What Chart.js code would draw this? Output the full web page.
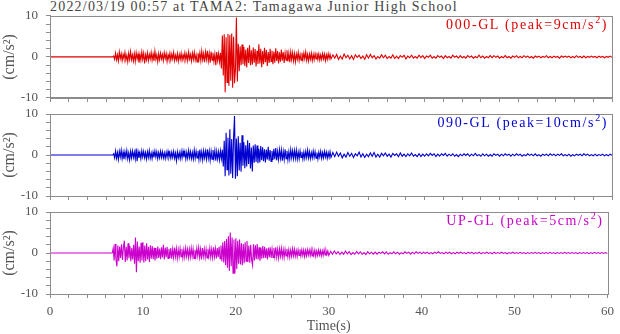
<!DOCTYPE html>
<html lang="en">
<head>
    <meta charset="UTF-8">
    <title>TAMA2 acceleration records</title>
    <script src="https://cdn.jsdelivr.net/npm/chart.js"></script>
    <style>
        body {
            margin: 0;
            background: #fff;
            width: 620px;
            height: 334px;
            overflow: hidden;
            position: relative;
            font-family: "Liberation Serif", serif;
        }
        canvas {
            position: absolute;
            left: 0;
            top: 0;
        }
        #title {
            position: absolute;
            left: 50px;
            top: 0px;
            font-size: 14px;
            line-height: 14px;
            letter-spacing: 1.2px;
            color: #444;
            white-space: nowrap;
        }
    </style>
</head>
<body>
    <div id="title">2022/03/19 00:57 at TAMA2: Tamagawa Junior High School</div>
    <canvas id="ns" width="620" height="334"></canvas>
    <canvas id="ew" width="620" height="334"></canvas>
    <canvas id="ud" width="620" height="334"></canvas>

    <script>
        // sampling of the traces (seconds)
        var burstStart = 6.8, burstStep = 0.1;   // 6.8 .. 30.0
        var codaStart = 30.2, codaStep = 0.2;    // 30.2 .. 60.0

        var xTickLabels = [0, 10, 20, 30, 40, 50, 60];
        var yTickLabels = [-10, 0, 10];

        var channelNames = ['000-GL', '090-GL', 'UP-GL'];
        var peakValues = [9, 10, 5];

        // 000-GL (cm/s2)
        var nsBurst = [
            0.2,-0.6,
            0.9,-0.7,0.5,-1.0,1.2,-0.4,0.8,-0.9,0.6,-0.5,
            1.1,-0.8,0.4,-1.2,0.9,-0.6,1.3,-0.7,0.5,-1.0,
            0.8,-1.1,1.0,-0.5,0.7,-1.4,0.6,-0.8,1.2,-0.6,
            0.9,-1.6,0.5,-0.7,1.0,-0.9,0.6,-0.5,1.1,-0.8,
            0.7,-1.0,1.4,-0.6,0.5,-1.2,0.8,-0.7,0.9,-0.5,
            0.6,-0.9,1.0,-0.4,0.8,-1.1,0.5,-0.6,0.9,-0.8,
            0.7,-0.5,1.1,-0.9,0.4,-0.7,0.8,-1.0,0.6,-0.6,
            0.9,-0.8,0.5,-0.6,1.0,-0.7,0.7,-0.9,1.2,-0.5,
            0.6,-1.0,0.9,-0.6,1.1,-0.8,0.5,-1.2,0.9,-0.7,
            1.0,-0.9,1.4,-0.7,0.8,-1.3,1.2,-0.6,1.5,-1.0,
            0.9,-1.4,1.3,-0.8,1.0,-1.1,0.7,-2.0,1.2,-0.9,
            0.8,-1.2,1.0,-2.8,5.2,-4.5,5.5,-8.6,4.8,-6.2,
            5.6,-7.0,5.3,-5.8,5.7,-7.5,4.9,-6.4,-3.0,9.6,
            -6.0,3.2,-3.5,2.6,-2.0,3.0,-1.8,2.4,-2.2,1.8,
            -2.6,2.2,-1.5,2.8,-2.0,1.6,-1.9,2.3,-1.4,1.9,
            -2.3,1.5,-1.7,3.1,-1.6,2.0,-2.5,1.4,-1.8,2.2,
            -1.3,1.7,-2.2,1.2,-1.5,2.0,-1.1,1.5,-1.8,1.3,
            -1.4,2.1,-1.0,1.4,-1.6,1.1,-1.2,1.8,-0.9,1.2,
            -1.5,1.0,-0.8,1.6,-1.1,0.9,-1.3,1.2,-0.7,1.0,
            -1.0,0.8,-1.2,0.7,-0.6,1.1,-0.9,0.6,-0.8,1.0,
            -0.7,0.9,-0.5,1.2,-0.8,0.6,-1.0,0.7,-0.6,0.9,
            -0.9,0.6,-0.7,0.8,-0.5,1.0,-0.6,0.7,-0.8,0.5,
            -0.6,0.8,-0.5,0.7,-0.9,0.5,-0.6,0.8,-0.4,0.6,
            -0.5
        ];
        var nsCoda = [
            0.5,-0.3,0.6,-0.6,0.2, -0.5,0.7,-0.2,0.4,-0.5,
            0.3,-0.6,0.5,-0.1,0.4, -0.4,0.2,-0.6,0.5,-0.3,
            0.6,-0.2,0.3,-0.5,0.1, -0.3,0.5,-0.2,0.4,-0.4,
            0.1,-0.3,0.5,-0.4,0.2, -0.4,0.3,-0.1,0.4,-0.5,
            0.2,-0.2,0.4,-0.3,0.1, -0.3,0.4,-0.2,0.3,-0.4,
            0.2,-0.1,0.4,-0.3,0.1, -0.3,0.3,-0.1,0.2,-0.4,
            0.3,-0.2,0.1,-0.3,0.4, -0.1,0.2,-0.3,0.3,-0.2,
            0.1,-0.3,0.3,-0.1,0.2, -0.3,0.1,-0.2,0.4,-0.2,
            0.2,-0.3,0.1,-0.2,0.3, -0.2,0.3,-0.1,0.2,-0.3,
            0.1,-0.2,0.3,-0.2,0.1, -0.3,0.2,-0.1,0.3,-0.2,
            0.1,-0.2,0.3,-0.1,0.2, -0.2,0.1,-0.3,0.2,-0.1,
            0.2,-0.2,0.1,-0.1,0.3, -0.2,0.1,-0.2,0.2,-0.1,
            0.1,-0.3,0.2,-0.1,0.2, -0.1,0.2,-0.2,0.1,-0.2,
            0.3,-0.1,0.1,-0.2,0.2, -0.2,0.1,-0.1,0.2,-0.1,
            0.1,-0.2,0.2,-0.1,0.1, -0.2,0.1,-0.1,0.2,-0.1
        ];

        // 090-GL (cm/s2)
        var ewBurst = [
            0.3,-0.7,
            1.0,-0.8,0.6,-1.1,0.9,-0.5,1.2,-0.9,0.7,-1.0,
            0.8,-0.6,1.1,-0.9,0.5,-1.2,0.9,-0.7,1.0,-0.6,
            0.7,-1.0,1.6,-1.5,0.8,-0.7,0.6,-0.9,1.0,-0.5,
            0.9,-0.7,0.6,-1.0,0.8,-0.6,1.1,-0.8,0.5,-0.9,
            0.7,-0.6,1.0,-0.5,0.8,-0.9,0.6,-0.7,0.9,-0.6,
            0.8,-0.7,0.5,-0.9,0.7,-0.6,0.9,-0.5,0.6,-0.8,
            0.7,-0.6,0.9,-0.8,0.5,-1.4,0.8,-0.7,0.6,-0.9,
            0.9,-0.7,1.0,-0.6,0.8,-1.0,0.7,-0.8,1.1,-0.7,
            0.8,-0.9,0.6,-1.0,1.2,-0.8,0.9,-0.7,1.0,-1.1,
            1.3,-0.9,0.8,-1.2,1.0,-0.7,0.9,-1.0,1.4,-0.8,
            1.0,-1.3,0.9,-1.0,1.2,-0.8,1.1,-1.4,0.9,-1.0,
            0.8,-1.2,1.0,-0.9,1.3,-2.8,3.5,-5.2,5.4,-3.6,
            4.2,-5.0,6.3,-4.6,3.9,-5.6,4.4,9.5,-5.8,4.0,
            -5.2,4.6,-3.8,3.0,-4.1,4.8,-2.6,3.1,-3.2,2.4,
            -2.8,3.6,-2.2,2.9,-3.3,1.8,-4.0,2.3,-1.9,2.6,
            -1.7,2.3,-2.0,1.5,-1.8,2.2,-1.3,1.9,-1.5,1.4,
            -1.8,1.3,-1.1,2.0,-1.4,1.2,-1.6,1.0,-1.2,1.5,
            -1.0,1.7,-1.3,0.9,-1.1,1.3,-0.8,1.2,-1.4,0.9,
            -1.1,1.4,-0.9,1.0,-1.2,0.8,-1.0,1.3,-0.7,1.0,
            -0.9,1.1,-0.8,1.2,-1.0,0.7,-0.9,1.0,-0.6,0.8,
            -1.0,0.7,-0.8,0.9,-0.6,1.2,-0.7,0.8,-0.9,0.6,
            -0.7,1.0,-0.6,0.8,-0.8,0.6,-1.0,0.7,-0.5,0.9,
            -0.8,0.6,-0.7,0.9,-0.5,0.7,-0.8,0.6,-0.6,0.8,
            -0.6
        ];
        var ewCoda = [
            0.6,-0.4,0.7,-0.3,0.5, -0.7,0.2,-0.5,0.6,-0.3,
            0.4,-0.6,0.3,-0.2,0.7, -0.5,0.3,-0.6,0.2,-0.4,
            0.5,-0.3,0.6,-0.5,0.2, -0.5,0.4,-0.2,0.5,-0.3,
            0.2,-0.5,0.4,-0.1,0.3, -0.4,0.5,-0.3,0.2,-0.4,
            0.3,-0.2,0.5,-0.3,0.1, -0.4,0.3,-0.4,0.2,-0.3,
            0.3,-0.2,0.4,-0.1,0.3, -0.4,0.2,-0.3,0.3,-0.1,
            0.4,-0.3,0.2,-0.2,0.3, -0.3,0.1,-0.4,0.2,-0.2,
            0.3,-0.1,0.3,-0.3,0.2, -0.2,0.4,-0.2,0.1,-0.3,
            0.3,-0.2,0.2,-0.3,0.1, -0.3,0.3,-0.1,0.2,-0.3,
            0.2,-0.2,0.3,-0.1,0.2, -0.3,0.2,-0.2,0.3,-0.1,
            0.2,-0.3,0.1,-0.2,0.3, -0.1,0.2,-0.2,0.3,-0.2,
            0.1,-0.3,0.2,-0.1,0.2, -0.2,0.3,-0.1,0.2,-0.2,
            0.2,-0.1,0.3,-0.2,0.1, -0.2,0.2,-0.3,0.1,-0.2,
            0.2,-0.1,0.2,-0.2,0.3, -0.1,0.2,-0.2,0.1,-0.2,
            0.2,-0.2,0.1,-0.1,0.2, -0.2,0.1,-0.2,0.2,-0.1
        ];

        // UP-GL (cm/s2)
        var udBurst = [
            1.2,-1.8,
            2.2,-1.5,-3.3,1.8,-2.0,1.6,-1.2,2.1,-1.7,1.4,
            3.0,-2.2,1.5,-1.8,2.4,-1.3,1.7,-2.0,1.2,-1.6,
            2.0,-2.6,3.8,-4.7,2.8,-2.0,1.6,-2.4,2.5,-1.8,
            2.6,-2.3,1.8,-2.0,2.4,-1.6,1.5,-2.2,1.9,-1.4,
            1.7,-1.5,1.3,-1.8,1.2,-1.4,1.6,-1.2,1.1,-1.5,
            1.4,-1.1,2.0,-1.6,1.3,-1.0,1.5,-1.3,1.0,-1.2,
            1.2,-1.4,0.9,-1.1,1.3,-0.9,1.1,-1.3,0.8,-1.0,
            1.1,-0.9,1.0,-1.2,0.8,-1.0,1.2,-0.8,0.9,-1.1,
            0.9,-1.0,1.2,-0.8,1.0,-1.3,0.8,-0.9,1.1,-0.7,
            1.3,-1.0,0.9,-1.6,1.2,-0.8,1.0,-1.1,0.9,-1.2,
            1.0,-0.8,1.2,-1.0,0.9,-1.1,1.4,-0.9,1.1,-1.3,
            1.2,-1.0,1.5,-1.4,1.8,-2.0,2.6,-2.3,2.9,-3.0,
            3.4,-3.6,4.1,-4.4,5.0,-3.2,3.8,-4.9,3.3,-5.0,
            3.6,-3.9,3.0,-2.6,3.3,-2.8,2.4,-3.0,2.2,-2.5,
            2.6,-2.0,2.9,-2.2,1.8,-2.4,2.0,-1.7,-3.0,2.1,
            -1.8,1.9,-1.5,2.2,-1.6,1.4,-1.9,1.3,-1.4,1.7,
            -1.3,1.5,-1.2,1.1,-1.6,1.3,-1.0,1.4,-1.2,1.0,
            -1.1,1.2,-0.9,1.4,-1.0,0.9,-1.2,1.0,-0.8,1.1,
            -1.0,0.8,-1.1,0.9,-0.7,1.0,-0.9,0.8,-1.0,0.7,
            -0.8,1.0,-0.7,0.9,-0.8,0.6,-0.9,0.8,-0.6,0.9,
            -0.7,0.8,-0.6,0.7,-0.9,0.6,-0.7,0.8,-0.5,0.7,
            -0.6,0.9,-0.7,0.5,-0.6,0.7,-0.8,0.5,-0.6,0.7,
            -0.5,0.6,-0.7,0.5,-0.6,0.8,-0.5,0.6,-0.4,0.5,
            -0.6
        ];
        var udCoda = [
            0.4,-0.3,0.5,-0.2,0.3, -0.4,0.2,-0.3,0.5,-0.2,
            0.3,-0.4,0.1,-0.3,0.4, -0.2,0.3,-0.3,0.1,-0.4,
            0.3,-0.2,0.2,-0.3,0.2, -0.3,0.2,-0.1,0.3,-0.2,
            0.3,-0.3,0.1,-0.2,0.3, -0.2,0.2,-0.3,0.1,-0.2,
            0.3,-0.1,0.2,-0.3,0.2, -0.2,0.3,-0.1,0.2,-0.2,
            0.2,-0.1,0.2,-0.2,0.1, -0.2,0.2,-0.1,0.3,-0.1,
            0.1,-0.2,0.2,-0.1,0.2, -0.2,0.1,-0.2,0.2,-0.1,
            0.2,-0.1,0.1,-0.2,0.2, -0.1,0.2,-0.2,0.1,-0.1,
            0.2,-0.2,0.1,-0.1,0.2, -0.1,0.1,-0.2,0.2,-0.1,
            0.1,-0.1,0.2,-0.1,0.1, -0.2,0.1,-0.1,0.2,-0.1,
            0.1,-0.1,0.15,-0.1,0.1, -0.15,0.1,-0.1,0.1,-0.1,
            0.15,-0.1,0.1,-0.15,0.1, -0.1,0.1,-0.1,0.15,-0.1,
            0.1,-0.15,0.1,-0.1,0.1, -0.1,0.15,-0.1,0.1,-0.1,
            0.1,-0.1,0.1,-0.15,0.1, -0.1,0.1,-0.1,0.1,-0.15,
            0.1,-0.1,0.15,-0.1,0.1, -0.1,0.1,-0.1,0.1,-0.1
        ];

        var frameColor = '#8c8c8c';
        var textColor = '#555';
        var serif = '"Liberation Serif", "Times New Roman", serif';

        function buildTrace(burst, coda) {
            var pts = [{x: 0, y: 0}, {x: burstStart - burstStep, y: 0}];
            burst.forEach(function (v, i) {
                pts.push({x: +(burstStart + i * burstStep).toFixed(2), y: v});
            });
            coda.forEach(function (v, i) {
                pts.push({x: +(codaStart + i * codaStep).toFixed(2), y: v});
            });
            return pts;
        }

        // box round the plot area + channel label with a raised "2"
        var panelDecor = {
            id: 'panelDecor',
            afterDatasetsDraw: function (chart, args, opts) {
                var ctx = chart.ctx, a = chart.chartArea;
                ctx.save();
                ctx.strokeStyle = frameColor;
                ctx.lineWidth = 1;
                ctx.strokeRect(Math.round(a.left) + 0.5, Math.round(a.top) + 0.5,
                    Math.round(a.right - a.left), Math.round(a.bottom - a.top));

                var main = opts.name + ' (peak=' + opts.peak + 'cm/s';
                ctx.fillStyle = opts.color;
                ctx.textBaseline = 'alphabetic';
                ctx.textAlign = 'left';
                ctx.letterSpacing = '1.6px';
                ctx.font = '14px ' + serif;
                var wMain = ctx.measureText(main).width;
                var wClose = ctx.measureText(')').width;
                ctx.font = '10px ' + serif;
                var wSup = ctx.measureText('2').width;
                var right = a.right - 4;
                var base = a.top + 13;
                var x0 = right - wClose - wSup - wMain;
                ctx.font = '14px ' + serif;
                ctx.fillText(main, x0, base);
                ctx.fillText(')', right - wClose, base);
                ctx.font = '10px ' + serif;
                ctx.fillText('2', x0 + wMain, base - 6);
                ctx.restore();
            }
        };

        function makePanel(id, trace, color, index, top, bottom, showX) {
            var xHeight = showX ? 39 : 6;
            return new Chart(document.getElementById(id), {
                type: 'line',
                data: {
                    datasets: [{
                        data: trace,
                        borderColor: color,
                        borderWidth: 1.1,
                        pointRadius: 0,
                        tension: 0,
                        fill: false
                    }]
                },
                options: {
                    responsive: false,
                    animation: false,
                    events: [],
                    layout: {
                        padding: {left: 0, right: 8, top: top, bottom: 334 - bottom - xHeight}
                    },
                    plugins: {
                        legend: {display: false},
                        tooltip: {enabled: false},
                        panelDecor: {
                            name: channelNames[index],
                            peak: peakValues[index],
                            color: color
                        }
                    },
                    scales: {
                        x: {
                            type: 'linear',
                            min: 0,
                            max: 60,
                            grid: {drawOnChartArea: false, drawTicks: true, tickLength: 4, color: frameColor},
                            border: {display: true, color: frameColor},
                            ticks: {
                                stepSize: 2,
                                autoSkip: false,
                                maxRotation: 0,
                                padding: 6,
                                color: textColor,
                                font: {family: serif, size: 13},
                                callback: function (v) {
                                    return showX && xTickLabels.indexOf(v) >= 0 ? String(v) : '';
                                }
                            },
                            title: {
                                display: showX,
                                text: 'Time(s)',
                                color: textColor,
                                font: {family: serif, size: 14, lineHeight: 1},
                                padding: {top: 0, bottom: 0}
                            },
                            afterFit: function (scale) { scale.height = xHeight; }
                        },
                        y: {
                            min: -10,
                            max: 10,
                            grid: {drawOnChartArea: false, drawTicks: true, tickLength: 4, color: frameColor},
                            border: {display: true, color: frameColor},
                            ticks: {
                                stepSize: 2,
                                autoSkip: false,
                                padding: 8,
                                color: textColor,
                                font: {family: serif, size: 13},
                                callback: function (v) {
                                    return yTickLabels.indexOf(v) >= 0 ? String(v) : '';
                                }
                            },
                            title: {
                                display: true,
                                text: '(cm/s²)',
                                color: textColor,
                                font: {family: serif, size: 16},
                                padding: {top: 0, bottom: 0}
                            },
                            afterFit: function (scale) { scale.width = 50; }
                        }
                    }
                },
                plugins: [panelDecor]
            });
        }

        makePanel('ns', buildTrace(nsBurst, nsCoda), '#e00000', 0, 15, 98, false);
        makePanel('ew', buildTrace(ewBurst, ewCoda), '#0000d0', 1, 114, 196, false);
        makePanel('ud', buildTrace(udBurst, udCoda), '#cc00cc', 2, 212, 294, true);
    </script>
</body>
</html>
